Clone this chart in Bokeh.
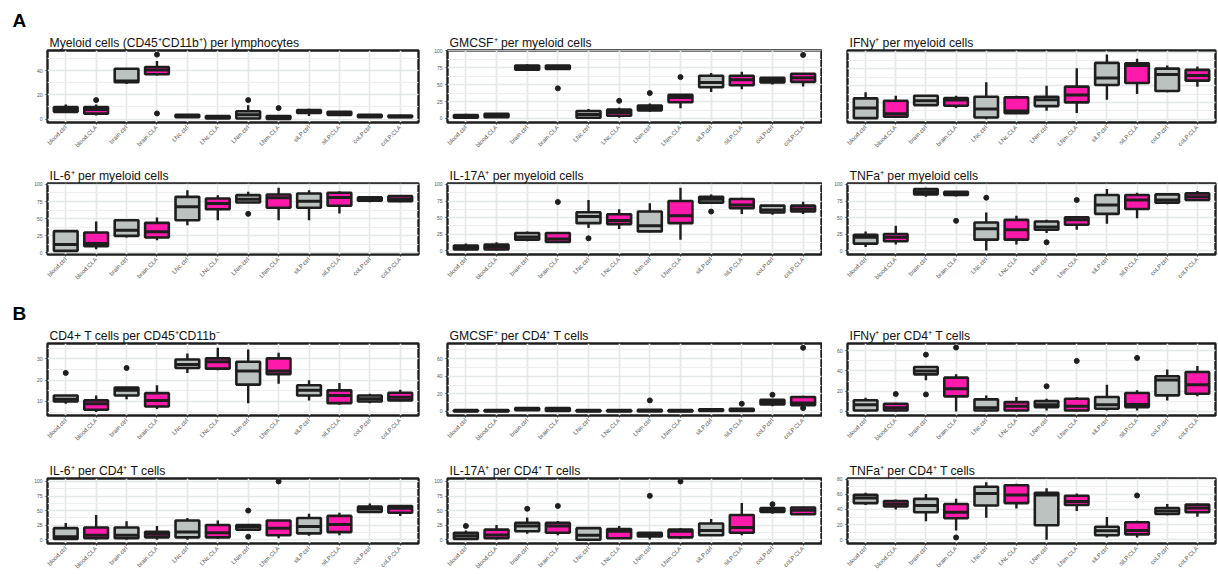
import math
from bokeh.plotting import figure
from bokeh.layouts import column, row
from bokeh.models import Range1d, FixedTicker, SingleIntervalTicker, Title, ColumnDataSource
from bokeh.embed import file_html
from bokeh.resources import INLINE

groups = ["blood.ctrl", "blood.CLA", "brain.ctrl", "brain.CLA", "LNc.ctrl", "LNc.CLA",
          "LNm.ctrl", "LNm.CLA", "siLP.ctrl", "siLP.CLA", "coLP.ctrl", "coLP.CLA"]

# ---- A: myeloid panels ----
a1_title = "Myeloid cells (CD45⁺CD11b⁺) per lymphocytes"
a1_lo  = [5, 3, 29, 36, 1, 0.3, 0, 0, 2.5, 3, 1.5, 1.2]
a1_q1  = [6, 4.5, 30.5, 37, 1.5, 0.5, 0.5, 0.2, 5, 3.5, 1.5, 1.5]
a1_med = [8, 8, 31.5, 40.5, 2.5, 1.5, 3.5, 1, 6.5, 4.5, 2.5, 2]
a1_q3  = [10, 10, 41.5, 43, 3.5, 2.5, 6.5, 2.5, 7.5, 6, 3.5, 3]
a1_hi  = [12, 12, 42, 48, 3.5, 3, 11.5, 3, 8.5, 6.5, 3.5, 3.5]
a1_out_g = ["blood.CLA", "brain.CLA", "brain.CLA", "LNm.ctrl", "LNm.CLA"]
a1_out_v = [15.7, 53.2, 4.7, 15.7, 9.1]

a2_title = "GMCSF⁺ per myeloid cells"
a2_lo  = [0, 1, 72, 73, 0, 1, 10, 15, 39, 43, 50, 47]
a2_q1  = [1, 2, 72, 73, 1, 4, 12, 24, 46, 49, 53, 54]
a2_med = [3, 5, 75, 75, 6, 9, 15, 31, 53, 57, 56, 60]
a2_q3  = [5, 7, 78, 78, 11, 13, 19, 35, 63, 63, 60, 66]
a2_hi  = [7, 8, 80, 78, 14, 16, 22, 36, 67, 69, 61, 66]
a2_out_g = ["brain.CLA", "LNc.CLA", "LNm.ctrl", "LNm.CLA", "coLP.CLA"]
a2_out_v = [44.4, 26, 37.5, 61, 93.7]

a3_title = "IFNy⁺ per myeloid cells"
a3_lo  = [1.5, 2.5, 20, 16.5, 0, 8, 12.5, 9, 29, 37.5, 40, 48.5]
a3_q1  = [1.5, 3.5, 21, 20, 2.5, 9, 19.5, 25, 51, 54, 42, 57.5]
a3_med = [16.5, 8, 27.5, 28.5, 15, 12, 29, 36, 61.5, 80, 66.5, 65]
a3_q3  = [31, 27.5, 35, 31.5, 33.5, 32.5, 33.5, 48.5, 84, 83.5, 75.5, 73.5]
a3_hi  = [40, 35, 36, 35, 55, 35, 50, 76, 96.5, 90, 80, 78.5]
a3_out_g = []
a3_out_v = []

a4_title = "IL-6⁺ per myeloid cells"
a4_lo  = [1.5, 5.4, 22.4, 18.5, 40.4, 47.7, 73.5, 47.7, 47.7, 57.5, 74, 74]
a4_q1  = [2.9, 9.7, 24.8, 22.4, 47.7, 63.8, 73.5, 65.8, 65.8, 68.7, 76, 75.5]
a4_med = [12.2, 13.6, 33, 30.7, 67.2, 72, 78.4, 80.4, 75.5, 80.9, 78.4, 78.4]
a4_q3  = [31.7, 29.7, 47.7, 43.8, 81.8, 79.4, 84.3, 85.2, 86.7, 87.7, 81, 82.8]
a4_hi  = [33, 45.8, 48.7, 51.6, 91.6, 84.3, 89.1, 95, 91.6, 90.1, 82.8, 84]
a4_out_g = ["LNm.ctrl"]
a4_out_v = [57]

a5_title = "IL-17A⁺ per myeloid cells"
a5_lo  = [0, 0, 14, 13, 34, 32.5, 27.5, 16.5, 72.5, 55.5, 54, 55.5]
a5_q1  = [1.5, 1.5, 16.5, 13, 41.5, 40, 29, 41.5, 72.5, 64, 57.5, 59]
a5_med = [4, 5.5, 20.5, 17.5, 51.5, 45.5, 37.5, 52.5, 77.5, 69, 61.5, 63]
a5_q3  = [7.5, 9, 26.5, 26.5, 58, 55, 59, 75, 81.5, 78, 68, 68]
a5_hi  = [10.5, 12.5, 29, 27.5, 76.5, 62.5, 71.5, 95, 85, 80, 69, 74]
a5_out_g = ["brain.CLA", "LNc.ctrl", "siLP.ctrl"]
a5_out_v = [73.5, 18.5, 59]

a6_title = "TNFa⁺ per myeloid cells"
a6_lo  = [5.5, 9, 81.5, 82, 0, 9, 26.5, 31.5, 40.5, 49, 70, 75.5]
a6_q1  = [10.5, 14, 85, 84, 16.5, 16.5, 31.5, 39, 55.5, 63, 72.5, 76.5]
a6_med = [20, 20, 89, 86.5, 33, 31.5, 35.5, 46.5, 69, 76.5, 76.5, 81.5]
a6_q3  = [24, 25, 93, 89, 42.5, 46.5, 44, 50.5, 84, 84, 85, 86.5]
a6_hi  = [29, 37.5, 95, 89, 57.5, 52.5, 46.5, 51.5, 93, 87.5, 86.5, 90]
a6_out_g = ["brain.CLA", "LNc.ctrl", "LNm.ctrl", "LNm.CLA"]
a6_out_v = [45, 80, 12.5, 76.5]

# ---- B: CD4 T cell panels ----
b1_title = "CD4+ T cells per CD45⁺CD11b⁻"
b1_lo  = [8.9, 5, 11, 6.5, 23.4, 24.6, 9.2, 18.3, 10.5, 8.4, 9.2, 10]
b1_q1  = [10, 6.1, 12.8, 7.6, 25.7, 25.4, 17.9, 22.8, 12.8, 9.2, 10, 10.5]
b1_med = [11, 8.9, 15.2, 10.5, 27.3, 28.6, 24.3, 24.3, 15.2, 12.8, 11.3, 12]
b1_q3  = [12.8, 10.5, 16.5, 13.9, 29.7, 30.2, 28.6, 30.2, 17.6, 15.2, 12.8, 14.1]
b1_hi  = [12.8, 12.8, 16.5, 17.6, 32.5, 35.2, 34.4, 32.8, 20, 18.7, 13.6, 15.5]
b1_out_g = ["blood.ctrl", "brain.ctrl"]
b1_out_v = [23.4, 25.7]

b2_title = "GMCSF⁺ per CD4⁺ T cells"
b2_lo  = [0, 0, 1, 0, 0, 0, 0, 0, 0.5, 0.5, 6, 5]
b2_q1  = [0, 0, 1.5, 0.5, 0, 0, 0, 0, 0.5, 0.5, 8, 7]
b2_med = [0.8, 0.8, 3, 2, 0.8, 0.8, 1, 0.8, 1.5, 1.8, 10.5, 9.5]
b2_q3  = [1.5, 1.5, 4, 4, 1.5, 1.5, 2, 1.5, 2.5, 3, 13.3, 16.4]
b2_hi  = [1.5, 1.5, 5, 5, 1.5, 1.5, 2, 1.5, 2.5, 4, 14, 18]
b2_out_g = ["LNm.ctrl", "siLP.CLA", "coLP.ctrl", "coLP.CLA", "coLP.CLA"]
b2_out_v = [12.6, 8.8, 19, 72.4, 3.8]

b3_title = "IFNy⁺ per CD4⁺ T cells"
b3_lo  = [0, 0, 30.7, 0, 0, 0, 1, 0, 1, 1, 10.9, 14.9]
b3_q1  = [1, 1, 36.6, 14.9, 1, 1, 4.3, 1, 2.6, 4.3, 15.8, 17.5]
b3_med = [6.6, 3.6, 40, 22.4, 3.6, 5, 6.6, 5, 6.6, 6.9, 31, 26.4]
b3_q3  = [11, 7.6, 43.9, 33.3, 11.9, 9.2, 10.2, 12.5, 14.2, 18.2, 34.7, 38.9]
b3_hi  = [13.5, 8.6, 44.9, 36.6, 15.8, 14.2, 12.5, 14.2, 26.4, 20.8, 41.3, 44.9]
b3_out_g = ["blood.CLA", "brain.ctrl", "brain.ctrl", "brain.CLA", "LNm.ctrl", "LNm.CLA", "siLP.CLA"]
b3_out_v = [17.2, 56, 16.8, 63, 24.8, 49.8, 52.8]

b4_title = "IL-6⁺ per CD4⁺ T cells"
b4_lo  = [0, 0, 0, 0, 0, 1.6, 17.4, 2.6, 6.8, 7.9, 46.3, 41]
b4_q1  = [1.6, 2.6, 2.6, 4.2, 4.2, 4.2, 17.4, 7.9, 11, 13.2, 47.9, 46.3]
b4_med = [5.3, 7.9, 7.9, 9.5, 13.2, 12, 22.6, 20, 22.6, 26.3, 53, 54.2]
b4_q3  = [20, 21, 21, 13.7, 33.2, 25.3, 25.3, 33.2, 37.4, 41, 56.8, 57.9]
b4_hi  = [29, 42.6, 32, 23.7, 37.4, 33, 25.3, 33.2, 44.7, 46.3, 62, 59.5]
b4_out_g = ["LNm.ctrl", "LNm.ctrl", "LNm.CLA"]
b4_out_v = [50, 5.3, 100]

b5_title = "IL-17A⁺ per CD4⁺ T cells"
b5_lo  = [0, 0, 10.5, 7.9, 0, 1.6, 0.5, 1.6, 6.8, 7.9, 44.7, 42.6]
b5_q1  = [1.6, 2.6, 14.7, 12, 0, 2.6, 5.8, 4.2, 7.9, 12, 47.9, 43.7]
b5_med = [6.8, 8.4, 23.7, 23.7, 7.9, 14.7, 8.4, 14.7, 15.8, 21, 51.6, 50.5]
b5_q3  = [12, 17.4, 29, 29, 20, 18.4, 12, 17.4, 27.9, 42.6, 54.2, 55.3]
b5_hi  = [16, 25.3, 38.4, 32.1, 21, 23.7, 13.2, 20, 35.8, 63.2, 56.8, 56.8]
b5_out_g = ["blood.ctrl", "brain.ctrl", "brain.CLA", "LNm.ctrl", "LNm.CLA", "coLP.ctrl"]
b5_out_v = [23.7, 53.2, 57.9, 75.3, 100, 61]

b6_title = "TNFa⁺ per CD4⁺ T cells"
b6_lo  = [46, 40, 24.4, 12.4, 29.2, 41.2, 0, 38, 3.2, 3.2, 32.4, 30.4]
b6_q1  = [48.4, 44, 36.4, 28.4, 45.2, 48.4, 19.2, 46, 6, 7.2, 34, 36.4]
b6_med = [55.2, 47.2, 45.2, 36.4, 61.2, 59.2, 59.2, 50.4, 12, 12.4, 38, 42]
b6_q3  = [59.2, 51.2, 54, 47.2, 70, 72, 62, 58, 17.2, 23.2, 42, 46.4]
b6_hi  = [62, 53.2, 60.4, 54, 76, 74, 68, 61.2, 30, 25.2, 47.2, 48]
b6_out_g = ["brain.CLA", "siLP.CLA"]
b6_out_v = [3.2, 58.4]

# ---- styling / layout ----
GRAY = "#bcc2c0"
PINK = "#ff1aab"
DARK = "#1e1e1e"
FONT = "Liberation Sans"

col_w = [420, 402, 396]
col_lr = [(47, 2), (27, 1), (25, 3)]
row_spec = [(163, 50, 41), (132, 20, 41), (160, 48, 40), (119, 23, 26)]


def panel(title, lo, q1, med, q3, hi, out_g, out_v, yr, ystep, c, r,
          show_ylab=True, letter=None):
    h, bt, bb = row_spec[r]
    bl, br = col_lr[c]
    p = figure(width=col_w[c], height=h, title=None,
               x_range=Range1d(-0.6, len(groups) - 0.4), y_range=Range1d(*yr),
               output_backend="svg", toolbar_location=None,
               min_border_left=bl, min_border_right=br,
               min_border_top=bt, min_border_bottom=bb)
    p.add_layout(Title(text=title, align="left", text_font=FONT,
                       text_font_size="12.2px", text_font_style="normal",
                       text_color="#111111", standoff=2, offset=2), "above")
    if letter:
        p.add_layout(Title(text=letter, align="left", text_font=FONT,
                           text_font_size="19px", text_font_style="bold",
                           text_color="#000000", standoff=4, offset=-35), "above")
    idx = {g: i for i, g in enumerate(groups)}
    xs = list(range(len(groups)))
    fills = [GRAY if g.endswith("ctrl") else PINK for g in groups]
    hw = 0.39
    src = ColumnDataSource(dict(x=xs, lo=lo, q1=q1, med=med, q3=q3, hi=hi,
                                fill=fills,
                                xl=[x - hw for x in xs], xr=[x + hw for x in xs]))
    p.segment(x0="x", y0="lo", x1="x", y1="q1", source=src, line_color=DARK, line_width=2.4)
    p.segment(x0="x", y0="q3", x1="x", y1="hi", source=src, line_color=DARK, line_width=2.4)
    p.vbar(x="x", bottom="q1", top="q3", width=2 * hw, source=src,
           fill_color="fill", line_color=DARK, line_width=2.6)
    p.segment(x0="xl", y0="med", x1="xr", y1="med", source=src, line_color=DARK, line_width=3)
    if out_g:
        p.scatter(x=[idx[g] for g in out_g], y=out_v, size=5, color=DARK)

    p.outline_line_color = DARK
    p.outline_line_width = 2.4
    p.background_fill_color = "white"
    p.border_fill_color = "white"

    xt = FixedTicker(ticks=xs)
    p.xaxis.ticker = xt
    p.xaxis.major_label_overrides = {i: g for i, g in enumerate(groups)}
    p.xaxis.major_label_orientation = math.pi / 4
    p.xaxis.major_label_text_font = FONT
    p.xaxis.major_label_text_font_size = "6px"
    p.xaxis.major_label_text_color = "#555555"
    p.xaxis.major_label_standoff = 2
    p.xaxis.axis_line_color = None
    p.xaxis.major_tick_line_color = "#333333"
    p.xaxis.major_tick_in = 0
    p.xaxis.major_tick_out = 2
    p.xaxis.minor_tick_line_color = None

    yt = SingleIntervalTicker(interval=ystep, num_minor_ticks=2)
    p.yaxis.ticker = yt
    p.yaxis.major_label_text_font = FONT
    p.yaxis.major_label_text_font_size = "5px"
    p.yaxis.major_label_text_color = "#555555"
    p.yaxis.major_label_standoff = 1
    p.yaxis.axis_line_color = None
    p.yaxis.major_tick_line_color = "#333333"
    p.yaxis.major_tick_in = 0
    p.yaxis.major_tick_out = 2
    p.yaxis.minor_tick_line_color = None
    if not show_ylab:
        p.yaxis.visible = False

    p.xgrid.ticker = xt
    p.xgrid.grid_line_color = "#e4e8e8"
    p.xgrid.grid_line_width = 1.6
    p.ygrid.ticker = yt
    p.ygrid.grid_line_color = "#e4e8e8"
    p.ygrid.grid_line_width = 1.6
    p.ygrid.minor_grid_line_color = "#eceff0"
    p.ygrid.minor_grid_line_width = 1
    return p


p1 = panel(a1_title, a1_lo, a1_q1, a1_med, a1_q3, a1_hi, a1_out_g, a1_out_v, (-2.8, 56.6), 20, 0, 0, letter="A")
p2 = panel(a2_title, a2_lo, a2_q1, a2_med, a2_q3, a2_hi, a2_out_g, a2_out_v, (-5.9, 100.2), 25, 1, 0)
p3 = panel(a3_title, a3_lo, a3_q1, a3_med, a3_q3, a3_hi, a3_out_g, a3_out_v, (-5, 102.5), 25, 2, 0, show_ylab=False)
p4 = panel(a4_title, a4_lo, a4_q1, a4_med, a4_q3, a4_hi, a4_out_g, a4_out_v, (-2.4, 101.3), 25, 0, 1)
p5 = panel(a5_title, a5_lo, a5_q1, a5_med, a5_q3, a5_hi, a5_out_g, a5_out_v, (-6, 101.5), 25, 1, 1)
p6 = panel(a6_title, a6_lo, a6_q1, a6_med, a6_q3, a6_hi, a6_out_g, a6_out_v, (-6, 101.5), 25, 2, 1)
p7 = panel(b1_title, b1_lo, b1_q1, b1_med, b1_q3, b1_hi, b1_out_g, b1_out_v, (3.4, 37.2), 10, 0, 2, letter="B")
p8 = panel(b2_title, b2_lo, b2_q1, b2_med, b2_q3, b2_hi, b2_out_g, b2_out_v, (-4.6, 77.3), 20, 1, 2)
p9 = panel(b3_title, b3_lo, b3_q1, b3_med, b3_q3, b3_hi, b3_out_g, b3_out_v, (-4, 67), 20, 2, 2)
p10 = panel(b4_title, b4_lo, b4_q1, b4_med, b4_q3, b4_hi, b4_out_g, b4_out_v, (-6.3, 105), 25, 0, 3)
p11 = panel(b5_title, b5_lo, b5_q1, b5_med, b5_q3, b5_hi, b5_out_g, b5_out_v, (-6.3, 105), 25, 1, 3)
p12 = panel(b6_title, b6_lo, b6_q1, b6_med, b6_q3, b6_hi, b6_out_g, b6_out_v, (-4.8, 80.8), 20, 2, 3)

layout = column(row(p1, p2, p3, spacing=0), row(p4, p5, p6, spacing=0),
                row(p7, p8, p9, spacing=0), row(p10, p11, p12, spacing=0), spacing=0)

open("out.html", "w").write(file_html(layout, INLINE))
